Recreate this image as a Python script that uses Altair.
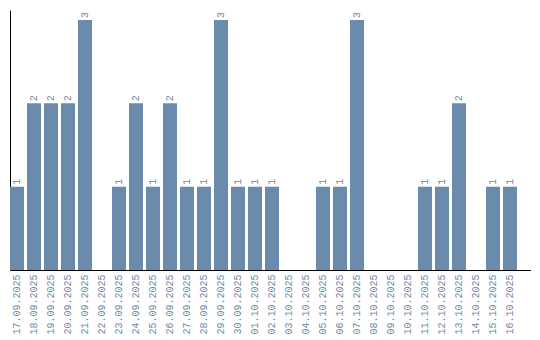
import altair as alt
import pandas as pd

dates = ["17.09.2025","18.09.2025","19.09.2025","20.09.2025","21.09.2025","22.09.2025",
         "23.09.2025","24.09.2025","25.09.2025","26.09.2025","27.09.2025","28.09.2025",
         "29.09.2025","30.09.2025","01.10.2025","02.10.2025","03.10.2025","04.10.2025",
         "05.10.2025","06.10.2025","07.10.2025","08.10.2025","09.10.2025","10.10.2025",
         "11.10.2025","12.10.2025","13.10.2025","14.10.2025","15.10.2025","16.10.2025"]
counts = [1,2,2,2,3,0,1,2,1,2,1,1,3,1,1,1,0,0,1,1,3,0,0,0,1,1,2,0,1,1]

df = pd.DataFrame({"date": dates, "count": counts})
df["label"] = df["count"].apply(lambda v: str(v) if v > 0 else "")

color = "#6a8bab"
font = "Liberation Mono"

x = alt.X("date:N", sort=dates, title=None,
          scale=alt.Scale(paddingInner=0.176, paddingOuter=0.412, align=0),
          axis=alt.Axis(labelAngle=-90, ticks=False, labelColor=color, labelFont=font,
                        labelFontSize=10, domainColor="black", labelPadding=4, labelAlign="right",
                        labelBaseline="middle", grid=False))
y = alt.Y("count:Q", title=None, scale=alt.Scale(domain=[0, 3.12], nice=False),
          axis=alt.Axis(labels=False, ticks=False, grid=False, domainColor="black"))

bars = alt.Chart(df).mark_bar(color=color).encode(x=x, y=y)
text = alt.Chart(df).mark_text(angle=270, align="left", baseline="middle", dx=2,
                               fill=color, font=font, fontSize=10).encode(
    x=alt.X("date:N", sort=dates), y=alt.Y("count:Q"), text="label:N",
    color=alt.value(color))

chart = (bars + text).properties(
    width=521, height=260, background="white",
    padding={"left": 10, "top": 10, "right": 0, "bottom": 0}
).configure_view(strokeWidth=0, stroke="transparent").configure_axis(grid=False)

chart.save("out.html", embed_options={"renderer": "svg", "actions": False})
